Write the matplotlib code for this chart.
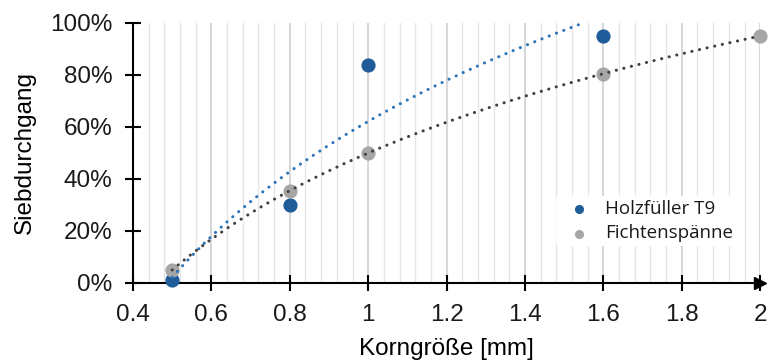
import numpy as np
import matplotlib
matplotlib.use("Agg")
import matplotlib.pyplot as plt
from matplotlib.ticker import MultipleLocator, PercentFormatter, FuncFormatter

# Siebdurchgang (percent) over Korngröße (mm)
holz_x = [0.5, 0.8, 1.0, 1.6]
holz_y = [1, 30, 84, 95]
fichte_x = [0.5, 0.8, 1.0, 1.6, 2.0]
fichte_y = [5, 35.5, 50, 80.5, 95]

blue = "#1f5c99"
blue_line = "#2e75b6"
grey = "#a6a6a6"
grey_line = "#404040"

plt.rcParams["font.family"] = ["Liberation Sans", "DejaVu Sans"]
plt.rcParams["text.color"] = "#1a1a1a"

fig = plt.figure(figsize=(7.71, 3.63), dpi=100)
ax = fig.add_axes([0.1725, 0.2204, 0.8135, 0.7163])

# logarithmic trend lines
def log_fit(xs, ys):
    a, b = np.polyfit(np.log(xs), ys, 1)
    return a, b

dots = (0, (0.05, 2.5))
xx = np.linspace(0.5, 2.0, 400)
a, b = log_fit(holz_x, holz_y)
yy = a * np.log(xx) + b
mask = yy <= 100
ax.plot(xx[mask], yy[mask], color=blue_line, lw=2.2, ls=dots,
        dash_capstyle="round", zorder=4)
a, b = log_fit(fichte_x, fichte_y)
ax.plot(xx, a * np.log(xx) + b, color=grey_line, lw=2.2, ls=dots,
        dash_capstyle="round", zorder=4)

ax.scatter(holz_x, holz_y, s=85, color=blue, zorder=3, label="Holzfüller T9",
           clip_on=False)
ax.scatter(fichte_x, fichte_y, s=85, color=grey, zorder=3, label="Fichtenspänne",
           clip_on=False)

ax.set_xlim(0.4, 2.0)
ax.set_ylim(0, 100)
ax.xaxis.set_major_locator(MultipleLocator(0.2))
ax.xaxis.set_minor_locator(MultipleLocator(0.04))
ax.xaxis.set_major_formatter(FuncFormatter(lambda v, p: f"{v:g}"))
ax.yaxis.set_major_locator(MultipleLocator(20))
ax.yaxis.set_major_formatter(PercentFormatter(decimals=0))

ax.grid(True, axis="x", which="major", color="#cfcfcf", lw=1.2)
ax.grid(True, axis="x", which="minor", color="#e6e6e6", lw=1.0)
ax.set_axisbelow(True)

for s in ["top", "right"]:
    ax.spines[s].set_visible(False)
for s in ["left", "bottom"]:
    ax.spines[s].set_linewidth(1.5)
    ax.spines[s].set_color("black")
ax.tick_params(which="major", direction="inout", length=12, width=1.5,
               labelsize=17.5, labelcolor="#1a1a1a")
ax.tick_params(axis="x", pad=9)
ax.tick_params(axis="y", pad=9)
ax.tick_params(which="minor", length=0)
ax.plot(1, 0, marker=">", ms=9, color="black", transform=ax.transAxes,
        clip_on=False, zorder=5)

ax.set_xlabel("Korngröße [mm]", fontsize=17.5, labelpad=9)
ax.set_ylabel("Siebdurchgang", fontsize=17.5, labelpad=10)

leg = ax.legend(loc="upper left", bbox_to_anchor=(0.66, 0.37), frameon=True,
                facecolor="white", edgecolor="none", framealpha=1,
                markerscale=0.6, handletextpad=0.4, borderpad=0.2,
                labelspacing=0.35, prop={"family": "Open Sans", "size": 13.5})

fig.savefig("out.png", dpi=100)
